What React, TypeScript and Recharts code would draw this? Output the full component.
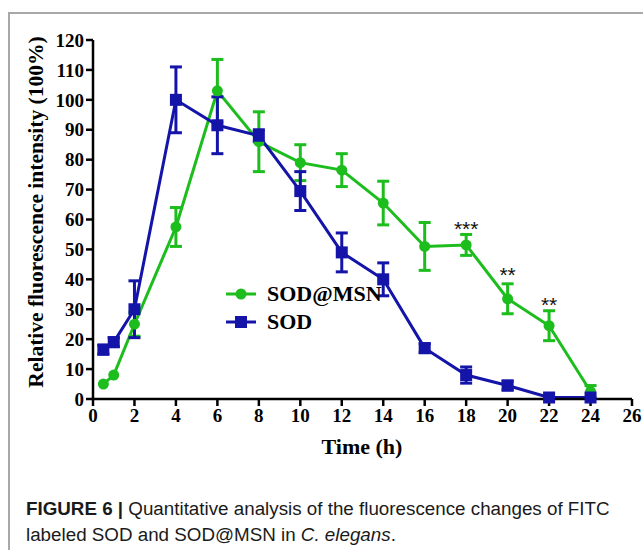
import React from 'react';
import { ComposedChart, Line, XAxis, YAxis, ErrorBar, ReferenceDot } from 'recharts';

const times = [0.5, 1, 2, 4, 6, 8, 10, 12, 14, 16, 18, 20, 22, 24];
const msnMean = [5, 8, 25, 57.5, 103, 86, 79, 76.5, 65.5, 51, 51.5, 33.5, 24.5, 2.5];
const msnErr = [0, 0, 4, 6.5, 10.5, 10, 6, 5.5, 7.3, 8, 3.5, 5, 5, 2];
const sodMean = [16.5, 19, 30, 100, 91.5, 88, 69.5, 49, 40, 17, 8, 4.5, 0.5, 0.5];
const sodErr = [1.5, 1.5, 9.5, 11, 9.5, 2, 6.5, 6.5, 5.5, 1.5, 2.7, 1.5, 0, 0];

const xTicks = [0, 2, 4, 6, 8, 10, 12, 14, 16, 18, 20, 22, 24, 26];
const yTicks = [0, 10, 20, 30, 40, 50, 60, 70, 80, 90, 100, 110, 120];

const starX = [18, 20, 22];
const starY = [58.5, 43, 33];
const starText = ['***', '**', '**'];

const GREEN = '#1dbd1d';
const BLUE = '#1414a8';

const data = times.map((t, i) => ({
  time: t,
  msn: msnMean[i],
  msnE: msnErr[i],
  sod: sodMean[i],
  sodE: sodErr[i],
}));

const serif = '"Liberation Serif", "Times New Roman", serif';
const sans = '"Liberation Sans", Arial, sans-serif';

const tickStyle = { fontFamily: serif, fontWeight: 700, fontSize: 19, fill: '#000' };

const SquareDot = (p: any) => {
  const { cx, cy, index } = p;
  if (cx == null || cy == null) return <g key={`s${index}`} />;
  return <rect key={`s${index}`} x={cx - 6} y={cy - 6} width={12} height={12} fill={BLUE} />;
};

const CircleDot = (p: any) => {
  const { cx, cy, index } = p;
  if (cx == null || cy == null) return <g key={`c${index}`} />;
  return <circle key={`c${index}`} cx={cx} cy={cy} r={5.5} fill={GREEN} />;
};

const LegendBox = () => (
  <div
    style={{
      position: 'absolute',
      left: 222,
      top: 280,
      fontFamily: serif,
      fontWeight: 700,
      fontSize: 22,
      color: '#000',
      lineHeight: '28px',
    }}
  >
    <div style={{ display: 'flex', alignItems: 'center' }}>
      <svg width={36} height={28}>
        <line x1={4} y1={14} x2={34} y2={14} stroke={GREEN} strokeWidth={3} />
        <circle cx={19} cy={14} r={5.5} fill={GREEN} />
      </svg>
      <span style={{ marginLeft: 9 }}>SOD@MSN</span>
    </div>
    <div style={{ display: 'flex', alignItems: 'center' }}>
      <svg width={36} height={28}>
        <line x1={4} y1={14} x2={34} y2={14} stroke={BLUE} strokeWidth={3} />
        <rect x={13} y={8} width={12} height={12} fill={BLUE} />
      </svg>
      <span style={{ marginLeft: 9 }}>SOD</span>
    </div>
  </div>
);

export default function App() {
  return (
    <div style={{ position: 'absolute', left: 0, top: 0, width: 643, height: 550, overflow: 'hidden', background: '#fff' }}>
      <div style={{ position: 'absolute', left: 8, top: 12, width: 700, height: 600, border: '2px solid #a8a8a8', boxSizing: 'border-box' }} />
      <div style={{ position: 'absolute', left: 0, top: 0 }}>
        <ComposedChart
          width={643}
          height={550}
          data={data}
          margin={{ top: 40, right: 11, bottom: 121, left: 43 }}
        >
          <XAxis
            type="number"
            dataKey="time"
            domain={[0, 26]}
            ticks={xTicks}
            interval={0}
            height={30}
            tickSize={7}
            tickMargin={3}
            axisLine={{ stroke: '#000', strokeWidth: 2.5 }}
            tickLine={{ stroke: '#000', strokeWidth: 2.5 }}
            tick={tickStyle}
            allowDecimals={false}
          />
          <YAxis
            type="number"
            domain={[0, 120]}
            ticks={yTicks}
            interval={0}
            width={50}
            tickSize={7}
            tickMargin={2}
            axisLine={{ stroke: '#000', strokeWidth: 2.5 }}
            tickLine={{ stroke: '#000', strokeWidth: 2.5 }}
            tick={tickStyle}
          />
          <Line
            dataKey="msn"
            stroke={GREEN}
            strokeWidth={3}
            dot={CircleDot}
            activeDot={false}
            isAnimationActive={false}
          >
            <ErrorBar dataKey="msnE" direction="y" width={6} strokeWidth={3} stroke={GREEN} />
          </Line>
          <Line
            dataKey="sod"
            stroke={BLUE}
            strokeWidth={3}
            dot={SquareDot}
            activeDot={false}
            isAnimationActive={false}
          >
            <ErrorBar dataKey="sodE" direction="y" width={6} strokeWidth={3} stroke={BLUE} />
          </Line>
          {starX.map((sx, i) => (
            <ReferenceDot
              key={`star${i}`}
              x={sx}
              y={starY[i]}
              r={0}
              isFront
              shape={(p: any) => (
                <text x={p.cx} y={p.cy + 12} textAnchor="middle" fontFamily={sans} fontSize={21} fill="#111">
                  {starText[i]}
                </text>
              )}
            />
          ))}
        </ComposedChart>
      </div>
      <LegendBox />
      <div
        style={{
          position: 'absolute',
          left: 36,
          top: 212,
          transform: 'translate(-50%, -50%) rotate(-90deg)',
          whiteSpace: 'nowrap',
          fontFamily: serif,
          fontWeight: 700,
          fontSize: 21.5,
          color: '#000',
        }}
      >
        Relative fluorescence intensity (100%)
      </div>
      <div
        style={{
          position: 'absolute',
          left: 362,
          top: 447,
          transform: 'translate(-50%, -50%)',
          whiteSpace: 'nowrap',
          fontFamily: serif,
          fontWeight: 700,
          fontSize: 22,
          color: '#000',
        }}
      >
        Time (h)
      </div>
      <div
        style={{
          position: 'absolute',
          left: 26,
          top: 496,
          width: 615,
          fontFamily: sans,
          fontSize: 18.8,
          lineHeight: '26px',
          color: '#1a1a1a',
        }}
      >
        <b>FIGURE 6 |</b> Quantitative analysis of the fluorescence changes of FITC
        <br />
        labeled SOD and SOD@MSN in <i>C. elegans</i>.
      </div>
    </div>
  );
}
